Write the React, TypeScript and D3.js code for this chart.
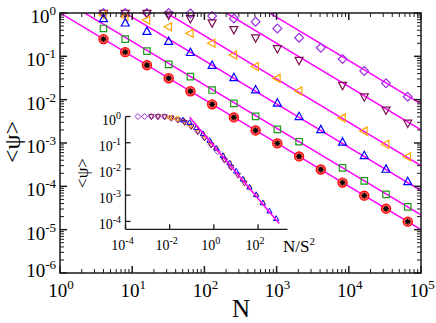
import * as d3 from 'd3';

// system sizes (powers of two)
const Ns = [4, 8, 16, 32, 64, 128, 256, 512, 1024, 2048, 4096, 8192, 16384, 32768, 65536];

// <psi>, null = no point drawn
const psiRed = [0.25, 0.125, 0.0625, 0.0312, 0.0156, 0.0078, 0.0039, 0.00195, 0.00098, 0.00049, 0.000244, 0.000122, 6.1e-5, 3.05e-5, 1.53e-5];
const psiGreen = [0.44, 0.25, 0.132, 0.065, 0.034, 0.0167, 0.0082, 0.0041, 0.00206, 0.00107, null, 2.67e-4, 1.34e-4, 6.5e-5, 3.36e-5];
const psiBlue = [0.73, 0.58, 0.37, 0.218, 0.121, 0.061, 0.032, 0.0167, 0.0082, 0.00403, 0.002, 0.00103, 5.06e-4, 2.45e-4, 1.27e-4];
const psiOrange = [0.9, 0.82, 0.69, 0.48, 0.34, 0.2, 0.107, 0.058, 0.031, 0.0158, null, 0.0038, 0.00188, 9.4e-4, 4.8e-4];
const psiMaroon = [1.0, 1.0, 0.99, 0.9, 0.75, 0.6, 0.42, 0.27, 0.153, 0.082, null, 0.0217, 0.0117, 0.0058, 0.0029];
const psiViolet = [1.0, 1.0, 1.0, 1.0, 0.98, 0.85, 0.75, 0.63, 0.44, 0.27, 0.158, 0.087, 0.046, 0.0238, 0.0117];

// fitted power laws psi = c / N (magenta lines)
const fitCoef = [1, 2.2, 8, 30, 200, 800];

// S^2 used for the inset collapse (violet, maroon, orange, blue)
const insetS2 = [10900, 2700, 400, 100];
const insetFit = 0.075;
const insetFitRange = [0.08, 900];

const mainXTicks = [0, 1, 2, 3, 4, 5];
const mainYTicks = [0, -1, -2, -3, -4, -5, -6];
const insetXTicks = [-4, -2, 0, 2];
const insetYTicks = [0, -1, -2, -3, -4];

const W = 436, H = 323;
const M = { left: 60, right: 421, top: 13, bottom: 273 };
const IN = { left: 125.5, right: 287.5, top: 116.5, bottom: 229.3 };

const MAG = '#ff00ff';
const serif = '"Liberation Serif", "DejaVu Serif", serif';

type Shape = 'circle' | 'square' | 'up' | 'left' | 'down' | 'diamond';

function markerPath(shape: Shape, r: number) {
  const h = r * 0.87;
  switch (shape) {
    case 'diamond': return `M0,${-r}L${r},0L0,${r}L${-r},0Z`;
    case 'up': return `M0,${-r}L${h},${r * 0.6}L${-h},${r * 0.6}Z`;
    case 'down': return `M0,${r}L${h},${-r * 0.6}L${-h},${-r * 0.6}Z`;
    case 'left': return `M${-r},0L${r * 0.6},${-h}L${r * 0.6},${h}Z`;
    case 'square': return `M${-r * 0.75},${-r * 0.75}h${r * 1.5}v${r * 1.5}h${-r * 1.5}Z`;
    default: return '';
  }
}

function Marker({ x, y, shape, color, r, sw }: { x: number; y: number; shape: Shape; color: string; r: number; sw: number }) {
  if (shape === 'circle') {
    // red circle with a black star on top
    const a = r * 0.62;
    return (
      <g transform={`translate(${x},${y})`}>
        <circle r={r} fill="#ff5a5a" stroke="#ff0000" strokeWidth={1.2} />
        <g stroke="#000" strokeWidth={1.3}>
          <line x1={-a} y1={0} x2={a} y2={0} />
          <line x1={0} y1={-a} x2={0} y2={a} />
          <line x1={-a * 0.7} y1={-a * 0.7} x2={a * 0.7} y2={a * 0.7} />
          <line x1={-a * 0.7} y1={a * 0.7} x2={a * 0.7} y2={-a * 0.7} />
        </g>
      </g>
    );
  }
  return <path transform={`translate(${x},${y})`} d={markerPath(shape, r)} fill="none" stroke={color} strokeWidth={sw} />;
}

function Pow({ x, y, exp, size, supSize, anchor, rise }: { x: number; y: number; exp: number; size: number; supSize: number; anchor: string; rise: number }) {
  return (
    <text x={x} y={y} fontFamily={serif} fontSize={size} textAnchor={anchor} fill="#000">
      10<tspan dy={-rise} fontSize={supSize}>{exp < 0 ? `-${-exp}` : `${exp}`}</tspan>
    </text>
  );
}

export default function App() {
  const x = d3.scaleLog().domain([1, 1e5]).range([M.left, M.right]);
  const y = d3.scaleLog().domain([1e-6, 1]).range([M.bottom, M.top]);
  const ix = d3.scaleLog().domain([1e-4, 2150]).range([IN.left, IN.right]);
  const iy = d3.scaleLog().domain([5e-5, 1]).range([IN.bottom, IN.top]);

  const series: { vals: (number | null)[]; shape: Shape; color: string }[] = [
    { vals: psiViolet, shape: 'diamond', color: '#9a2ee0' },
    { vals: psiMaroon, shape: 'down', color: '#7a1050' },
    { vals: psiOrange, shape: 'left', color: '#ffa500' },
    { vals: psiBlue, shape: 'up', color: '#0000ff' },
    { vals: psiGreen, shape: 'square', color: '#1a9a1a' },
    { vals: psiRed, shape: 'circle', color: '#ff0000' },
  ];

  const lineFor = (c: number) => {
    const pts: [number, number][] = [[1, c], [1e5, c / 1e5]];
    return d3.line<[number, number]>().x(d => x(d[0])).y(d => y(d[1]))(pts) as string;
  };

  const insetLine = d3.line<number>().x(v => ix(v)).y(v => iy(insetFit / v))(insetFitRange) as string;

  // main ticks
  const majorX = mainXTicks.map(e => Math.pow(10, e));
  const minorX: number[] = [];
  mainXTicks.slice(0, -1).forEach(e => { for (let k = 2; k < 10; k++) minorX.push(k * Math.pow(10, e)); });
  const majorY = mainYTicks.map(e => Math.pow(10, e));
  const minorY: number[] = [];
  mainYTicks.slice(1).forEach(e => { for (let k = 2; k < 10; k++) minorY.push(k * Math.pow(10, e)); });

  const axisColor = '#1a1a1a';

  return (
    <svg width={W} height={H} style={{ position: 'absolute', left: 0, top: 0, background: '#fff' }}>
      <defs>
        <clipPath id="plot">
          <rect x={M.left} y={M.top} width={M.right - M.left} height={M.bottom - M.top} />
        </clipPath>
      </defs>

      {/* fit lines */}
      <g clipPath="url(#plot)">
        {fitCoef.map((c, i) => (
          <path key={i} d={lineFor(c)} stroke={MAG} strokeWidth={1.5} fill="none" />
        ))}
      </g>

      {/* main markers */}
      <g>
        {series.map((s, si) =>
          s.vals.map((v, i) => v == null ? null : (
            <Marker key={`${si}-${i}`} x={x(Ns[i])} y={y(v)} shape={s.shape} color={s.color}
              r={s.shape === 'circle' ? 4.6 : s.shape === 'square' ? 4.3 : s.shape === 'diamond' ? 4.4 : 4.6} sw={1.2} />
          ))
        )}
      </g>

      {/* main frame and ticks */}
      <g stroke={axisColor} strokeWidth={1.5} fill="none">
        <rect x={M.left} y={M.top} width={M.right - M.left} height={M.bottom - M.top} />
        {majorX.map((t, i) => (
          <g key={`mx${i}`}>
            <line x1={x(t)} x2={x(t)} y1={M.bottom} y2={M.bottom - 7} />
            <line x1={x(t)} x2={x(t)} y1={M.top} y2={M.top + 7} />
          </g>
        ))}
        {minorX.map((t, i) => (
          <g key={`nx${i}`} strokeWidth={1}>
            <line x1={x(t)} x2={x(t)} y1={M.bottom} y2={M.bottom - 4} />
            <line x1={x(t)} x2={x(t)} y1={M.top} y2={M.top + 4} />
          </g>
        ))}
        {majorY.map((t, i) => (
          <g key={`my${i}`}>
            <line x1={M.left} x2={M.left + 7} y1={y(t)} y2={y(t)} />
            <line x1={M.right} x2={M.right - 7} y1={y(t)} y2={y(t)} />
          </g>
        ))}
        {minorY.map((t, i) => (
          <g key={`ny${i}`} strokeWidth={1}>
            <line x1={M.left} x2={M.left + 4} y1={y(t)} y2={y(t)} />
            <line x1={M.right} x2={M.right - 4} y1={y(t)} y2={y(t)} />
          </g>
        ))}
      </g>

      {/* main tick labels */}
      {mainXTicks.map(e => (
        <Pow key={`lx${e}`} x={x(Math.pow(10, e)) + 1} y={297} exp={e} size={19} supSize={13} anchor="middle" rise={8} />
      ))}
      {mainYTicks.map(e => (
        <Pow key={`ly${e}`} x={56} y={y(Math.pow(10, e)) + (e === -6 ? 4 : 10)} exp={e} size={19} supSize={13} anchor="end" rise={8} />
      ))}

      <text x={241} y={317} fontFamily={serif} fontSize={25} textAnchor="middle">N</text>
      <text transform="translate(20,142) rotate(-90)" fontFamily={serif} fontSize={24} textAnchor="middle">&lt;ψ&gt;</text>

      {/* inset: collapse vs N/S^2 */}
      <g>
        {series.slice(0, 4).map((s, si) =>
          s.vals.map((v, i) => v == null ? null : (
            <path key={`i${si}-${i}`} transform={`translate(${ix(Ns[i] / insetS2[si])},${iy(v)})`}
              d={markerPath(s.shape, 3)} fill="none" stroke={s.color} strokeWidth={1} />
          ))
        )}
        <path d={insetLine} stroke={MAG} strokeWidth={1.5} fill="none" />
      </g>
      <g stroke={axisColor} strokeWidth={1.3} fill="none">
        <line x1={IN.left} x2={IN.left} y1={IN.top} y2={IN.bottom} />
        <line x1={IN.left} x2={IN.right} y1={IN.bottom} y2={IN.bottom} />
        {insetXTicks.map(e => (
          <line key={`ixt${e}`} x1={ix(Math.pow(10, e))} x2={ix(Math.pow(10, e))} y1={IN.bottom} y2={IN.bottom - 5} />
        ))}
        {insetYTicks.map(e => (
          <line key={`iyt${e}`} x1={IN.left} x2={IN.left + 5} y1={iy(Math.pow(10, e))} y2={iy(Math.pow(10, e))} />
        ))}
      </g>
      {insetXTicks.map(e => (
        <Pow key={`ilx${e}`} x={ix(Math.pow(10, e)) - 3} y={250} exp={e} size={14} supSize={10} anchor="middle" rise={6} />
      ))}
      {insetYTicks.map(e => (
        <Pow key={`ily${e}`} x={121} y={iy(Math.pow(10, e)) + 8} exp={e} size={14} supSize={10} anchor="end" rise={6} />
      ))}
      <text x={283} y={252} fontFamily={serif} fontSize={17}>
        N/S<tspan dy={-7} fontSize={11}>2</tspan>
      </text>
      <text transform="translate(88,173) rotate(-90)" fontFamily={serif} fontSize={17} textAnchor="middle">&lt;ψ&gt;</text>
    </svg>
  );
}
